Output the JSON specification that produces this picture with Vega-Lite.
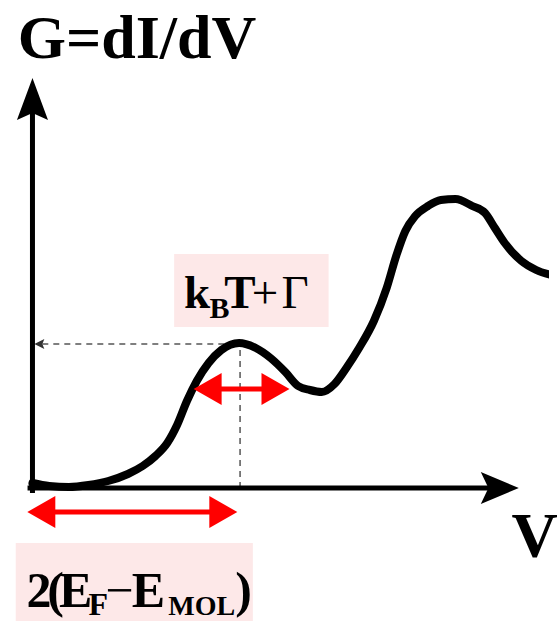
{
  "$schema": "https://vega.github.io/schema/vega-lite/v6.json",
  "width": 558,
  "height": 621,
  "padding": 0,
  "autosize": {"type": "fit", "contains": "padding"},
  "background": "white",
  "config": {"view": {"stroke": null}},
  "encoding": {
    "x": {"field": "v", "type": "quantitative", "axis": null, "scale": {"domain": [-33, 525], "nice": false, "zero": false}},
    "y": {"field": "g", "type": "quantitative", "axis": null, "scale": {"domain": [-133, 488], "nice": false, "zero": false}}
  },
  "layer": [
    {
      "description": "pink label backgrounds",
      "data": {"values": [
        {"v": 144, "v2": 301, "g": 234, "g2": 161},
        {"v": -17, "v2": 224, "g": -55, "g2": -133}
      ]},
      "mark": {"type": "rect", "color": "#fde8e8"},
      "encoding": {"x2": {"field": "v2"}, "y2": {"field": "g2"}}
    },
    {
      "description": "dashed guide lines to the first peak",
      "data": {"values": [
        {"v": 10, "v2": 211, "g": 144, "g2": 144},
        {"v": 211, "v2": 211, "g": 0, "g2": 144}
      ]},
      "mark": {"type": "rule", "color": "#555555", "strokeWidth": 1.5, "strokeDash": [6, 5]},
      "encoding": {"x2": {"field": "v2"}, "y2": {"field": "g2"}}
    },
    {
      "description": "small arrowhead on the dashed guide",
      "data": {"values": [{"v": 7, "g": 144}]},
      "mark": {"type": "point", "shape": "M-1,0L1,-1L0.6,0L1,1Z", "size": 100, "filled": true, "color": "#333333", "opacity": 1, "strokeWidth": 0}
    },
    {
      "description": "conductance curve",
      "data": {"values": [
        {"v": 0, "g": 5}, {"v": 17, "g": 2}, {"v": 37, "g": 1}, {"v": 57, "g": 3},
        {"v": 77, "g": 7}, {"v": 97, "g": 14}, {"v": 112, "g": 22}, {"v": 125, "g": 32},
        {"v": 137, "g": 45}, {"v": 147, "g": 63}, {"v": 157, "g": 87}, {"v": 167, "g": 107},
        {"v": 179, "g": 125}, {"v": 192, "g": 138}, {"v": 210, "g": 145}, {"v": 227, "g": 140},
        {"v": 242, "g": 130}, {"v": 257, "g": 116}, {"v": 270, "g": 102}, {"v": 282, "g": 98},
        {"v": 294, "g": 96}, {"v": 307, "g": 104}, {"v": 319, "g": 120}, {"v": 332, "g": 140},
        {"v": 347, "g": 167}, {"v": 360, "g": 200}, {"v": 370, "g": 233}, {"v": 379, "g": 257},
        {"v": 389, "g": 272}, {"v": 402, "g": 282}, {"v": 415, "g": 288}, {"v": 430, "g": 289},
        {"v": 447, "g": 282}, {"v": 460, "g": 275}, {"v": 470, "g": 260}, {"v": 480, "g": 245},
        {"v": 497, "g": 227}, {"v": 512, "g": 218}, {"v": 527, "g": 213}
      ]},
      "mark": {"type": "line", "color": "black", "strokeWidth": 8, "strokeCap": "round", "strokeJoin": "round", "interpolate": "monotone", "clip": true}
    },
    {
      "description": "axes",
      "data": {"values": [
        {"v": 0, "v2": 0, "g": -5, "g2": 376},
        {"v": -5, "v2": 464, "g": 0, "g2": 0}
      ]},
      "mark": {"type": "rule", "color": "black", "strokeWidth": 5},
      "encoding": {"x2": {"field": "v2"}, "y2": {"field": "g2"}}
    },
    {
      "description": "G axis arrowhead",
      "data": {"values": [{"v": 0, "g": 389}]},
      "mark": {"type": "point", "shape": "M0,-1L0.74,1L0,0.67L-0.74,1Z", "size": 1764, "filled": true, "color": "black", "opacity": 1, "strokeWidth": 0}
    },
    {
      "description": "V axis arrowhead",
      "data": {"values": [{"v": 475, "g": 0}]},
      "mark": {"type": "point", "shape": "M1,0L-1,0.84L-0.6,0L-1,-0.84Z", "size": 1444, "filled": true, "color": "black", "opacity": 1, "strokeWidth": 0}
    },
    {
      "description": "red double arrow shafts",
      "data": {"values": [
        {"v": 180, "v2": 250, "g": 99},
        {"v": 10, "v2": 195, "g": -24}
      ]},
      "mark": {"type": "rule", "color": "#ff0000", "strokeWidth": 5},
      "encoding": {"x2": {"field": "v2"}}
    },
    {
      "description": "red left heads",
      "data": {"values": [{"v": 178, "g": 99}, {"v": 9, "g": -24}]},
      "mark": {"type": "point", "shape": "M-1,0L1,-1.14L1,1.14Z", "size": 784, "filled": true, "color": "#ff0000", "opacity": 1, "strokeWidth": 0}
    },
    {
      "description": "red right heads",
      "data": {"values": [{"v": 247, "g": 99}, {"v": 194, "g": -24}]},
      "mark": {"type": "point", "shape": "M1,0L-1,-1.14L-1,1.14Z", "size": 784, "filled": true, "color": "#ff0000", "opacity": 1, "strokeWidth": 0}
    },
    {
      "description": "bold text pieces",
      "data": {"values": [
        {"v": -15, "g": 430, "t": "G=dI/dV", "s": 62},
        {"v": 487, "g": -69, "t": "V", "s": 64},
        {"v": 154, "g": 180, "t": "k", "s": 47},
        {"v": 180, "g": 170, "t": "B", "s": 30},
        {"v": 195, "g": 180, "t": "T", "s": 47},
        {"v": -6, "g": -119, "t": "2", "s": 50},
        {"v": 15, "g": -119, "t": "(", "s": 50},
        {"v": 27, "g": -119, "t": "E", "s": 50},
        {"v": 57, "g": -127, "t": "F", "s": 32},
        {"v": 101, "g": -119, "t": "E", "s": 50},
        {"v": 138, "g": -127, "t": "MOL", "s": 28},
        {"v": 206, "g": -119, "t": ")", "s": 50}
      ]},
      "mark": {"type": "text", "font": "Liberation Serif", "fontWeight": "bold", "align": "left", "baseline": "alphabetic", "color": "black"},
      "encoding": {"text": {"field": "t"}, "size": {"field": "s", "type": "quantitative", "scale": null}}
    },
    {
      "description": "regular text pieces",
      "data": {"values": [
        {"v": 223, "g": 180, "t": "+", "s": 47},
        {"v": 253, "g": 180, "t": "Γ", "s": 47},
        {"v": 74, "g": -119, "t": "−", "s": 50}
      ]},
      "mark": {"type": "text", "font": "Liberation Serif", "fontWeight": "normal", "align": "left", "baseline": "alphabetic", "color": "black"},
      "encoding": {"text": {"field": "t"}, "size": {"field": "s", "type": "quantitative", "scale": null}}
    }
  ]
}
